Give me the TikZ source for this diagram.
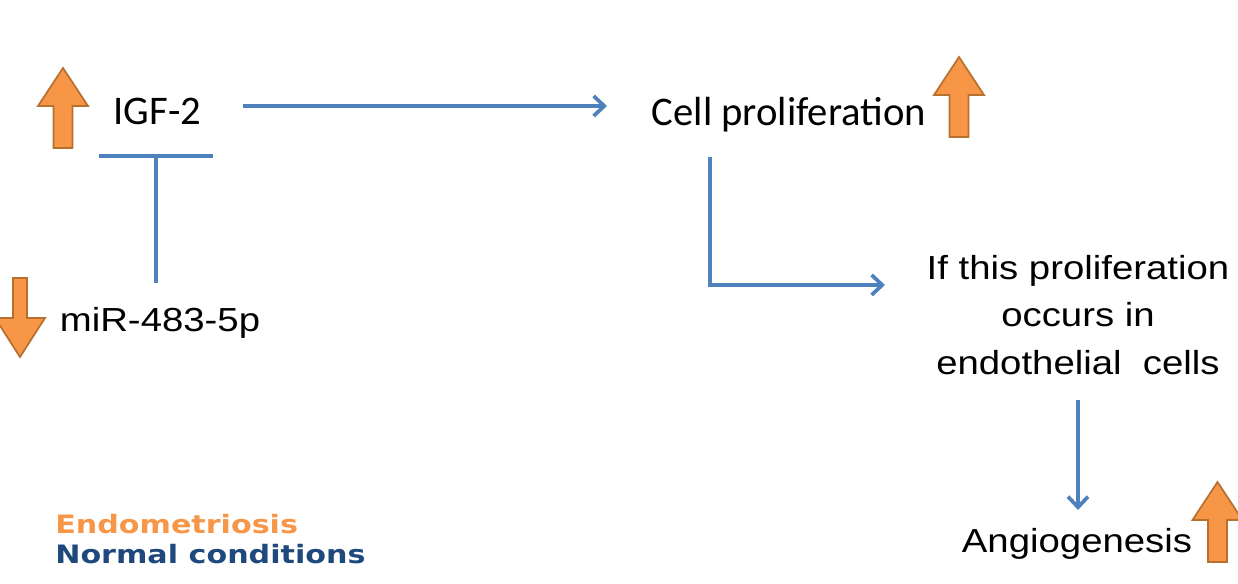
\documentclass[tikz,border=0pt]{standalone}
\usepackage{fontspec}
\usepackage{xcolor}
\usetikzlibrary{arrows.meta,calc}
\newfontfamily\calibrifont{Carlito}
\newfontfamily\arialfont{Liberation Sans}
\newfontfamily\legendfont{DejaVu Sans}
\definecolor{lineblue}{HTML}{4F81BD}
\definecolor{arrorange}{HTML}{F79646}
\definecolor{arrborder}{HTML}{B8702F}
\definecolor{navy}{HTML}{1F497D}
\newcommand{\wide}[1]{\scalebox{1.15}[1]{#1}}
\newcommand{\legwide}[1]{\scalebox{1.19}[1]{#1}}
\newcommand{\upblock}[2]{\draw[block] (#1,#2) -- ++(25,38) -- ++(-15.5,0) -- ++(0,42) -- ++(-19,0) -- ++(0,-42) -- ++(-15.5,0) -- cycle;}
\newcommand{\downblock}[2]{\draw[block] (#1,#2) -- ++(25,-39) -- ++(-18,0) -- ++(0,-40) -- ++(-14,0) -- ++(0,40) -- ++(-18,0) -- cycle;}

\begin{document}
\begin{tikzpicture}[x=0.75pt,y=-0.75pt,
    blueline/.style={draw=lineblue, line width=2.8pt},
    tip/.style={-{Straight Barb[length=8pt,width=15pt]}},
    block/.style={fill=arrorange, draw=arrborder, line width=1.3pt},
    calibri/.style={inner sep=0pt, font=\calibrifont\fontsize{30.5}{36}\selectfont},
    arial/.style={inner sep=0pt, font=\arialfont\fontsize{25}{35.6}\selectfont},
    legend/.style={inner sep=0pt, anchor=base west, font=\legendfont\bfseries\fontsize{19}{22}\selectfont}]
    \useasboundingbox (0,0) rectangle (1238,584);

    \node[calibri, anchor=base] (igf) at (157.5,125) {IGF-2};
    \node[calibri, anchor=base] (cell) at (789,126) {Cell proliferation};
    \node[arial, anchor=base] (mir) at (160,332) {\wide{miR-483-5p}};
    \node[arial, anchor=north, align=center] (prolif) at (1078,255)
        {\wide{If this proliferation}\\ \wide{occurs in}\\ \wide{endothelial\ \ cells}};
    \node[arial, anchor=base] (angio) at (1077,552) {\wide{Angiogenesis}};
    \node[legend, text=arrorange] (endo) at (55,533) {\legwide{Endometriosis}};
    \node[legend, text=navy] (normal) at (55,563) {\legwide{Normal conditions}};

    % up / down markers
    \upblock{63}{68}
    \upblock{959}{57}
    \upblock{1217.5}{482}
    \downblock{20}{357}

    \draw[blueline,tip] ($(igf.base)+(85.5,-19)$) -- ($(cell.base)+(-182,-20)$);
    \draw[blueline,-{Bar[width=86pt]}] ($(mir.base)+(-4,-49)$) -- ($(igf.base)+(-1.5,29)$);
    \draw[blueline,tip] ($(cell.base)+(-79,31)$) |- ($(prolif.north)+(-193,30)$);
    \draw[blueline,tip] ($(prolif.north)+(0,145)$) -- ($(angio.base)+(1,-42)$);
\end{tikzpicture}
\end{document}
